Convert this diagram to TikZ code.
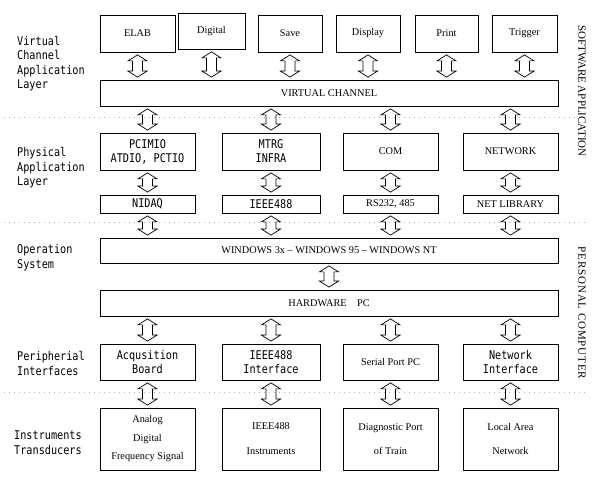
\documentclass[tikz,border=0pt]{standalone}
\usepackage{fontspec}
\setmainfont{Liberation Serif}
\newfontfamily\gulim[FakeStretch=0.85]{DejaVu Sans Mono}
\usetikzlibrary{calc}
\newcommand{\serifsz}{\fontsize{10.3}{12.4}\selectfont}
\newcommand{\gulimsz}{\gulim\fontsize{12}{14}\selectfont}

\tikzset{
  box/.style={draw, line width=0.8pt, rectangle, inner sep=1pt, align=center, font=\serifsz},
  mono/.style={font=\gulimsz},
  wide/.style={box, minimum width=458pt, minimum height=26pt},
  layer/.style={anchor=west, inner sep=0pt, align=left, font=\gulim\fontsize{12}{14.5}\selectfont},
  side/.style={rotate=-90, inner sep=0pt, font=\fontsize{11}{13}\selectfont},
  sep/.style={draw=black!30, line width=0.5pt, dash pattern=on 1pt off 4pt},
  updown/.style={line width=0.7pt, line join=miter, to path={
    let \p1=(\tikztostart), \p2=(\tikztotarget) in
    (\x1,\y1-2.5pt) -- (\x1+9.5pt,\y1-8.5pt) -- (\x1+5pt,\y1-8.5pt)
    -- (\x1+5pt,\y2+8.5pt) -- (\x1+9.5pt,\y2+8.5pt) -- (\x1,\y2+2.5pt)
    -- (\x1-9.5pt,\y2+8.5pt) -- (\x1-5pt,\y2+8.5pt) -- (\x1-5pt,\y1-8.5pt)
    -- (\x1-9.5pt,\y1-8.5pt) -- cycle}}
}

\begin{document}
\begin{tikzpicture}[x=1pt, y=-1pt]
      \useasboundingbox (0,0) rectangle (592,478);
      % Separators
      \draw[sep] (4,117) -- (588,117);
      \draw[sep] (4,222) -- (588,222);
      \draw[sep] (4,392) -- (588,392);

      % Layer labels
      \node[layer] (vcal) at (17,63.5) {Virtual\\Channel\\Application\\Layer};
      \node[layer] (pal) at (17,168) {Physical\\Application\\Layer};
      \node[layer] (opsys) at (17,257.5) {Operation\\System};
      \node[layer] (perif) at (17,363.5) {Peripherial\\Interfaces};
      \node[layer] (instr) at (14,442.5) {Instruments\\Transducers};

      \node[side] (swapp) at (582,91) {SOFTWARE APPLICATION};
      \node[side, font=\fontsize{11}{13}\selectfont\addfontfeature{LetterSpace=8}] (pcomp) at (582,313) {PERSONAL COMPUTER};

      % Nodes
      \node[box, minimum width=75pt, minimum height=37pt] (elab) at (137.5,33.5) {ELAB};
      \node[box, minimum width=67pt, minimum height=36pt] (digital) at (211.5,31) {Digital};
      \node[box, minimum width=64pt, minimum height=37pt] (save) at (290,33.5) {Save};
      \node[box, minimum width=64pt, minimum height=37pt] (display) at (368,33.5) {Display};
      \node[box, minimum width=63pt, minimum height=37pt] (print) at (446.5,33.5) {Print};
      \node[box, minimum width=65pt, minimum height=37pt] (trigger) at (524.5,33.5) {Trigger};

      \node[wide] (vchan) at (329,93) {VIRTUAL CHANNEL};

      \node[box, mono, minimum width=95pt, minimum height=37pt] (pcimio) at (147.5,151.5) {PCIMIO\\ATDIO, PCTIO};
      \node[box, mono, minimum width=98pt, minimum height=37pt] (mtrg) at (271,151.5) {MTRG\\INFRA};
      \node[box, minimum width=95pt, minimum height=37pt] (com) at (390.5,151.5) {COM};
      \node[box, minimum width=95pt, minimum height=37pt] (network) at (510.5,151.5) {NETWORK};

      \node[box, mono, minimum width=95pt, minimum height=18pt] (nidaq) at (147.5,204) {NIDAQ};
      \node[box, mono, minimum width=98pt, minimum height=18pt] (gpib) at (271,204) {IEEE488};
      \node[box, minimum width=95pt, minimum height=18pt] (rs232) at (390.5,204) {RS232, 485};
      \node[box, minimum width=95pt, minimum height=18pt] (netlib) at (510.5,204) {NET LIBRARY};

      \node[wide, minimum height=25pt] (windows) at (329,250.5) {WINDOWS 3x -- WINDOWS 95 -- WINDOWS NT};
      \node[wide] (hwpc) at (329,303) {HARDWARE\quad PC};

      \node[box, mono, minimum width=95pt, minimum height=36pt] (acq) at (147.5,362) {Acqusition\\Board};
      \node[box, mono, minimum width=98pt, minimum height=36pt] (gpibif) at (271,362) {IEEE488\\Interface};
      \node[box, minimum width=95pt, minimum height=36pt] (serial) at (390.5,362) {Serial Port PC};
      \node[box, mono, minimum width=95pt, minimum height=36pt] (netif) at (510.5,362) {Network\\Interface};

      \node[box, font=\fontsize{10.3}{18.5}\selectfont, minimum width=95pt, minimum height=62pt] (analog) at (147.5,439) {Analog\\Digital\\Frequency Signal};
      \node[box, font=\fontsize{10.3}{25}\selectfont, minimum width=98pt, minimum height=62pt] (gpibinst) at (271,439) {IEEE488\\Instruments};
      \node[box, font=\fontsize{10.3}{24}\selectfont, minimum width=95pt, minimum height=62pt] (diag) at (390.5,439) {Diagnostic Port\\of Train};
      \node[box, font=\fontsize{10.3}{24}\selectfont, minimum width=95pt, minimum height=62pt] (lan) at (510.5,439) {Local Area\\Network};

      % Paths
      \draw[updown] (elab.south) to (elab.south |- vchan.north);
      \draw[updown] (digital.south) to (digital.south |- vchan.north);
      \draw[updown] (save.south) to (save.south |- vchan.north);
      \draw[updown] (display.south) to (display.south |- vchan.north);
      \draw[updown] (print.south) to (print.south |- vchan.north);
      \draw[updown] (trigger.south) to (trigger.south |- vchan.north);

      \draw[updown] (vchan.south -| pcimio.north) to (pcimio.north);
      \draw[updown] (vchan.south -| mtrg.north) to (mtrg.north);
      \draw[updown] (vchan.south -| com.north) to (com.north);
      \draw[updown] (vchan.south -| network.north) to (network.north);

      \draw[updown] (pcimio.south) to (nidaq.north);
      \draw[updown] (mtrg.south) to (gpib.north);
      \draw[updown] (com.south) to (rs232.north);
      \draw[updown] (network.south) to (netlib.north);

      \draw[updown] (nidaq.south) to (nidaq.south |- windows.north);
      \draw[updown] (gpib.south) to (gpib.south |- windows.north);
      \draw[updown] (rs232.south) to (rs232.south |- windows.north);
      \draw[updown] (netlib.south) to (netlib.south |- windows.north);

      \draw[updown] (windows.south) to (hwpc.north);

      \draw[updown] (hwpc.south -| acq.north) to (acq.north);
      \draw[updown] (hwpc.south -| gpibif.north) to (gpibif.north);
      \draw[updown] (hwpc.south -| serial.north) to (serial.north);
      \draw[updown] (hwpc.south -| netif.north) to (netif.north);

      \draw[updown] (acq.south) to (analog.north);
      \draw[updown] (gpibif.south) to (gpibinst.north);
      \draw[updown] (serial.south) to (diag.north);
      \draw[updown] (netif.south) to (lan.north);
    \end{tikzpicture}
\end{document}
